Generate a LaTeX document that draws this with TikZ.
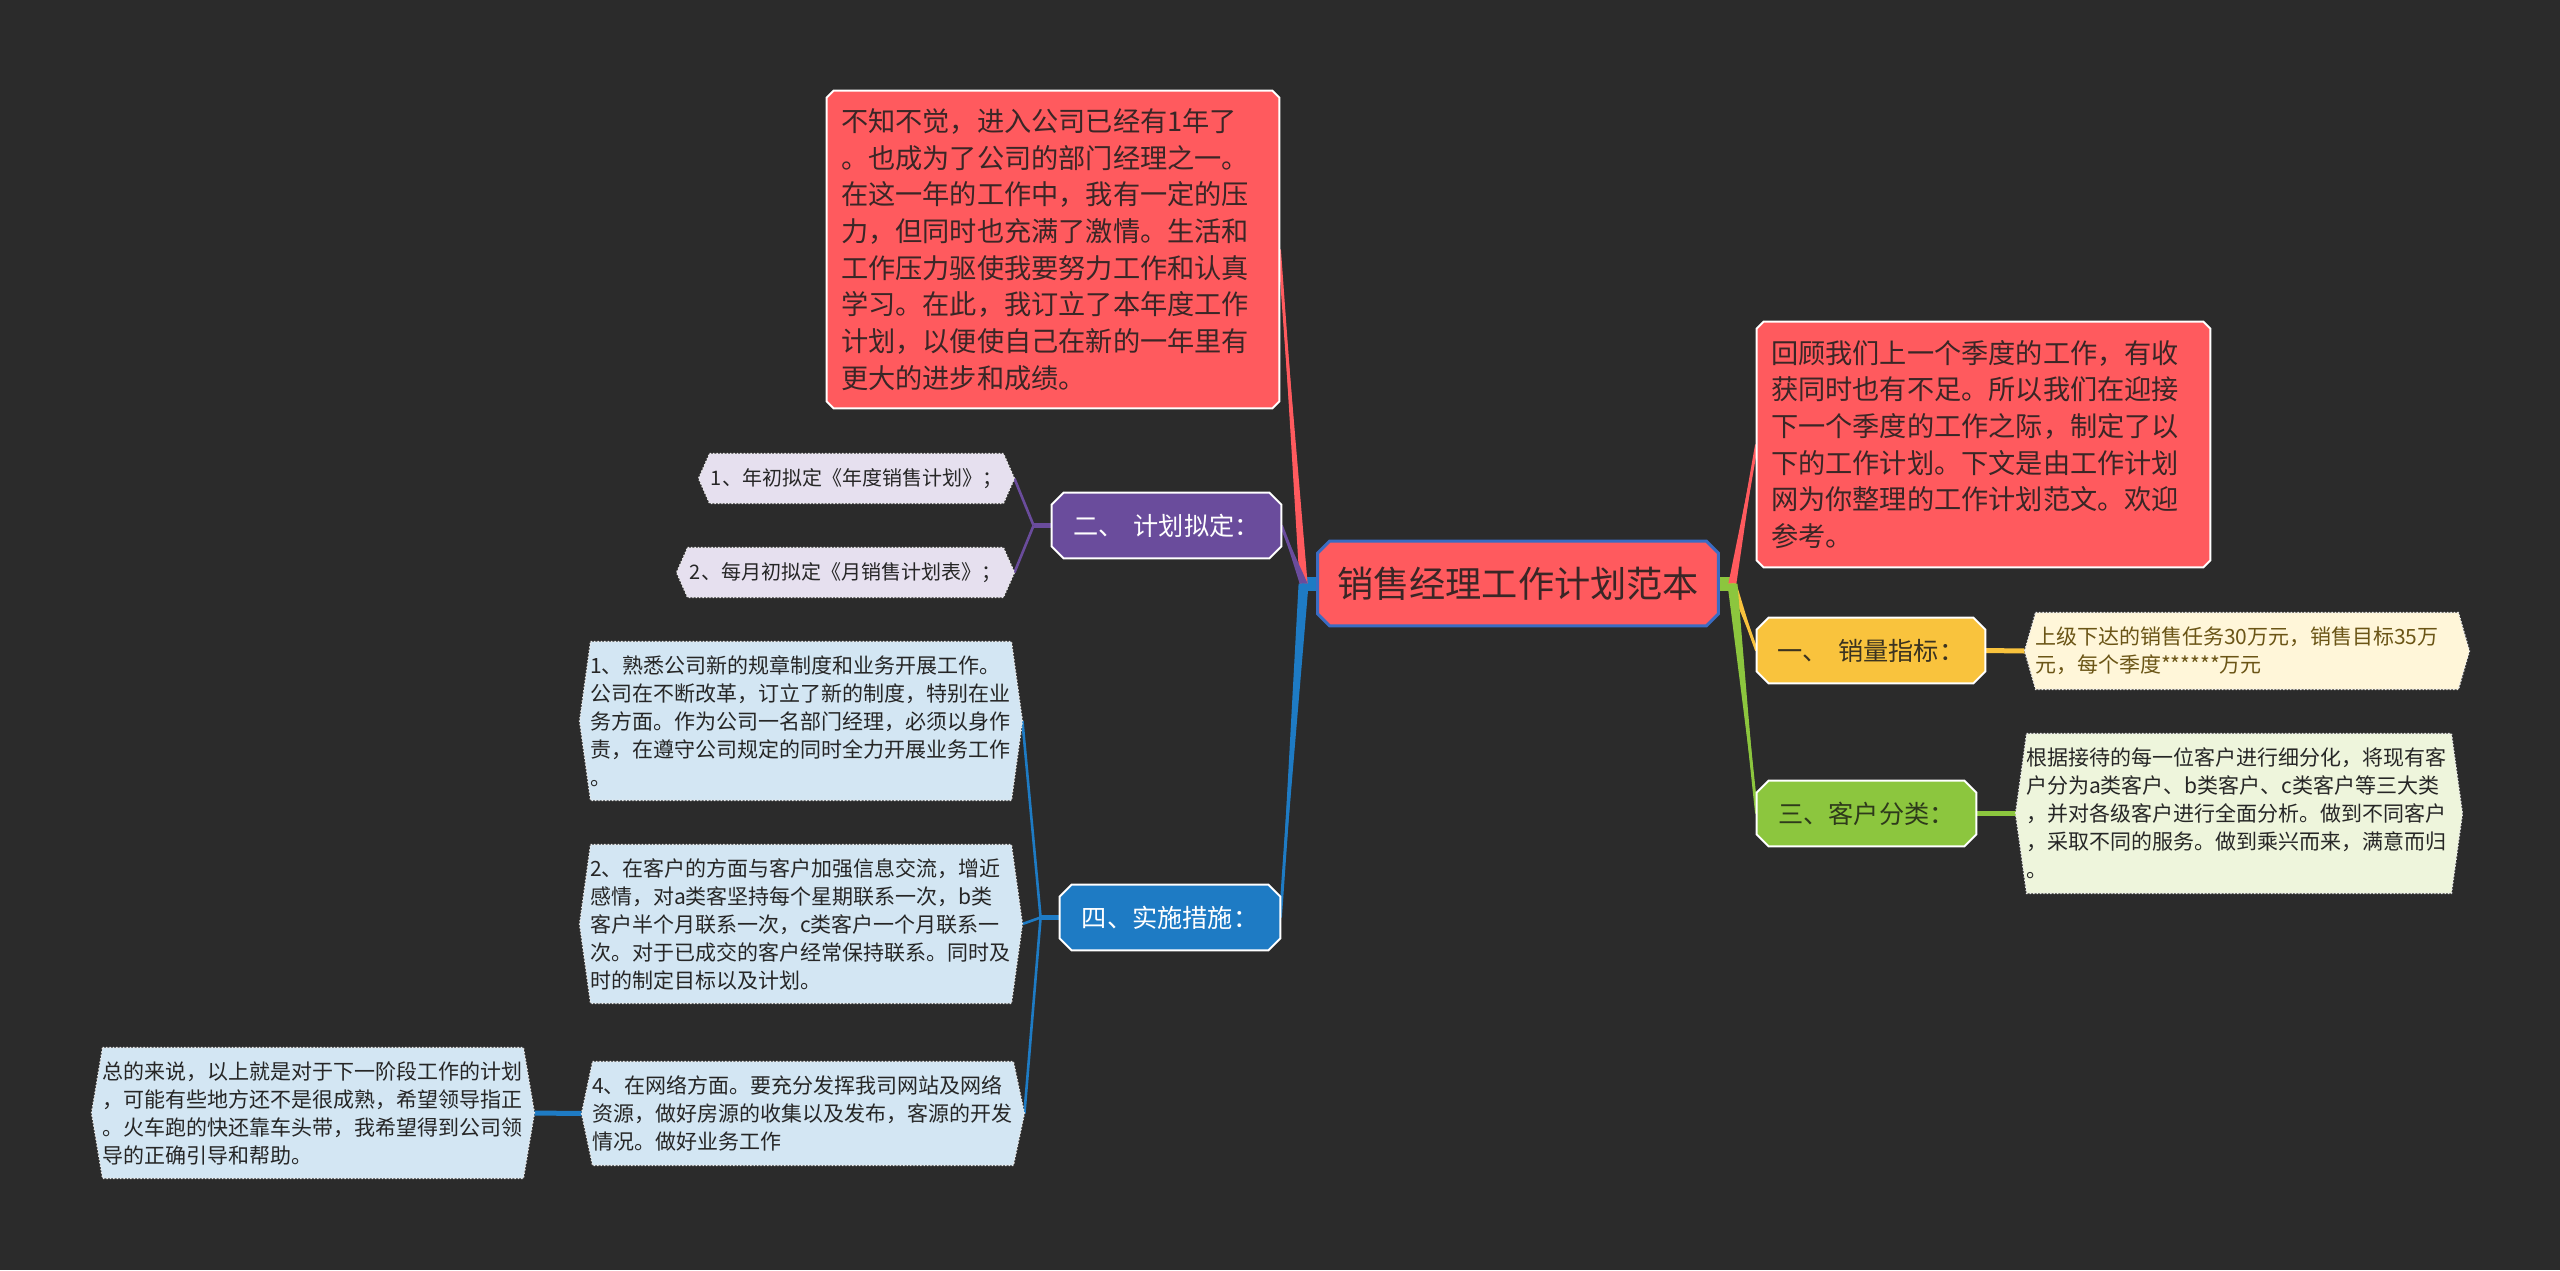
\documentclass[tikz,border=0pt]{standalone}
\usepackage{fontspec}
\setmainfont{Noto Sans CJK SC}
\usetikzlibrary{calc}
\pgfdeclarelayer{bglayer}
\pgfdeclarelayer{lines}
\pgfdeclarelayer{shapes}
\pgfsetlayers{bglayer,lines,shapes,main}
\definecolor{bg}{HTML}{2B2B2B}
\definecolor{redc}{HTML}{FF5A5E}
\definecolor{redtext}{HTML}{3A2626}
\definecolor{purc}{HTML}{6A4C9C}
\definecolor{purleaf}{HTML}{E6E0EF}
\definecolor{bluec}{HTML}{1E7BC4}
\definecolor{blueleaf}{HTML}{D3E6F3}
\definecolor{yelc}{HTML}{F9C33D}
\definecolor{yelleaf}{HTML}{FFF6D9}
\definecolor{grnc}{HTML}{8CC63E}
\definecolor{grnleaf}{HTML}{EEF5DC}
\definecolor{cenborder}{HTML}{3A6CC2}
\definecolor{leaftext}{HTML}{262626}
\definecolor{yeltext}{HTML}{6B5516}
\definecolor{yelnodetext}{HTML}{3B3320}
\definecolor{grnnodetext}{HTML}{2E3A1B}
\definecolor{dotc}{HTML}{E8E8E8}

\newcommand\octshape[3]{\begin{pgfonlayer}{shapes}\path[#3] ($(#1.north west)+(#2,0)$) -- ($(#1.north east)+(-#2,0)$) -- ($(#1.north east)+(0,#2)$) -- ($(#1.south east)+(0,-#2)$) -- ($(#1.south east)+(-#2,0)$) -- ($(#1.south west)+(#2,0)$) -- ($(#1.south west)+(0,-#2)$) -- ($(#1.north west)+(0,#2)$) -- cycle;\end{pgfonlayer}}
\newcommand\hexshape[3]{\begin{pgfonlayer}{shapes}\path[#3] ($(#1.north west)+(#2,0)$) -- ($(#1.north east)+(-#2,0)$) -- (#1.east) -- ($(#1.south east)+(-#2,0)$) -- ($(#1.south west)+(#2,0)$) -- (#1.west) -- cycle;\end{pgfonlayer}}
\newcommand\taper[4]{\begin{pgfonlayer}{lines}\fill[#4] ($(#1)+(-#3,0)$) -- (#2) -- ($(#1)+(#3,0)$) -- cycle;\draw[#4,line width=1.5pt] (#1) -- (#2);\end{pgfonlayer}}

\tikzset{
  box/.style={rectangle, inner sep=0pt, align=center},
  mainnode/.style={box, font=\fontsize{12.6}{16}\selectfont, minimum height=32.5pt},
  redbox/.style={rectangle, inner xsep=7pt, inner ysep=0pt, align=left, text=redtext, font=\fontsize{13.6}{18.35}\selectfont},
  leafbox/.style={rectangle, inner xsep=5pt, inner ysep=0pt, align=left, text=leaftext, font=\fontsize{10.5}{14}\selectfont},
  shortleaf/.style={box, text=leaftext, font=\fontsize{10}{13}\selectfont, minimum height=24.5pt},
  leafdraw/.style={draw=dotc, densely dotted, line width=0.7pt},
  subline/.style={line width=1.3pt},
  stubline/.style={line width=2.5pt}
}

\begin{document}
\begin{tikzpicture}[x=0.5pt,y=-0.5pt]
\begin{pgfonlayer}{bglayer}
\fill[bg] (0,0) rectangle (2560,1270);
\end{pgfonlayer}
\useasboundingbox (0,0) rectangle (2560,1270);

% central topic
\node[box, text=redtext, font=\fontsize{18.1}{22}\selectfont, minimum width=200pt, minimum height=42pt] (central) at (1518,583.5) {销售经理工作计划范本};

% red text boxes
\node[redbox, text width=212pt, minimum height=158.5pt] (topred) at (1053,249.5) {不知不觉，进入公司已经有1年了\\。也成为了公司的部门经理之一。\\在这一年的工作中，我有一定的压\\力，但同时也充满了激情。生活和\\工作压力驱使我要努力工作和认真\\学习。在此，我订立了本年度工作\\计划，以便使自己在新的一年里有\\更大的进步和成绩。};
\node[redbox, text width=212.5pt, minimum height=122.5pt] (rightred) at (1983.5,444.5) {回顾我们上一个季度的工作，有收\\获同时也有不足。所以我们在迎接\\下一个季度的工作之际，制定了以\\下的工作计划。下文是由工作计划\\网为你整理的工作计划范文。欢迎\\参考。};

% main branches
\node[mainnode, text=yelnodetext, minimum width=114pt] (n1) at (1871,650.5) {一、\hspace{0.4em}销量指标：};
\node[mainnode, text=grnnodetext, minimum width=109.5pt] (n3) at (1866.5,813.5) {三、客户分类：};
\node[mainnode, text=white, minimum width=114.5pt] (n2) at (1166.5,525.5) {二、\hspace{0.4em}计划拟定：};
\node[mainnode, text=white, minimum width=110pt] (n4) at (1170,917.5) {四、实施措施：};

% leaves
\node[leafbox, text=yeltext, text width=212pt, minimum height=38pt] (leaf1) at (2247,651) {上级下达的销售任务30万元，销售目标35万\\元，每个季度******万元};
\node[leafbox, text width=213pt, minimum height=79.5pt] (leaf3) at (2239,813.5) {根据接待的每一位客户进行细分化，将现有客\\户分为a类客户、b类客户、c类客户等三大类\\，并对各级客户进行全面分析。做到不同客户\\，采取不同的服务。做到乘兴而来，满意而归\\。};
\node[shortleaf, minimum width=157.5pt] (leaf2a) at (856.5,478.5) {1、年初拟定《年度销售计划》；};
\node[shortleaf, minimum width=168.5pt] (leaf2b) at (845.5,572.5) {2、每月初拟定《月销售计划表》；};
\node[leafbox, text width=211pt, minimum height=79pt] (leaf4a) at (801,721) {1、熟悉公司新的规章制度和业务开展工作。\\公司在不断改革，订立了新的制度，特别在业\\务方面。作为公司一名部门经理，必须以身作\\责，在遵守公司规定的同时全力开展业务工作\\。};
\node[leafbox, text width=211pt, minimum height=79pt] (leaf4b) at (801,924) {2、在客户的方面与客户加强信息交流，增近\\感情，对a类客坚持每个星期联系一次，b类\\客户半个月联系一次，c类客户一个月联系一\\次。对于已成交的客户经常保持联系。同时及\\时的制定目标以及计划。};
\node[leafbox, text width=211pt, minimum height=51.5pt] (leaf4c) at (803,1113.5) {4、在网络方面。要充分发挥我司网站及网络\\资源，做好房源的收集以及发布，客源的开发\\情况。做好业务工作};
\node[leafbox, text width=211pt, minimum height=65pt] (leaf4d) at (313,1113) {总的来说，以上就是对于下一阶段工作的计划\\，可能有些地方还不是很成熟，希望领导指正\\。火车跑的快还靠车头带，我希望得到公司领\\导的正确引导和帮助。};

% shapes
\octshape{central}{12}{fill=redc, draw=cenborder, line width=1.5pt}
\octshape{topred}{7}{fill=redc, draw=white, line width=1pt}
\octshape{rightred}{7}{fill=redc, draw=white, line width=1pt}
\octshape{n1}{12}{fill=yelc, draw=white, line width=1pt}
\octshape{n3}{12}{fill=grnc, draw=white, line width=1pt}
\octshape{n2}{12}{fill=purc, draw=white, line width=1pt}
\octshape{n4}{12}{fill=bluec, draw=white, line width=1pt}
\hexshape{leaf1}{11}{fill=yelleaf, leafdraw}
\hexshape{leaf3}{11}{fill=grnleaf, leafdraw}
\hexshape{leaf2a}{11}{fill=purleaf, leafdraw}
\hexshape{leaf2b}{11}{fill=purleaf, leafdraw}
\hexshape{leaf4a}{11}{fill=blueleaf, leafdraw}
\hexshape{leaf4b}{11}{fill=blueleaf, leafdraw}
\hexshape{leaf4c}{11}{fill=blueleaf, leafdraw}
\hexshape{leaf4d}{11}{fill=blueleaf, leafdraw}

% connectors
\coordinate (JL) at ($(central.west)+(-14,0)$);
\coordinate (JR) at ($(central.east)+(14,0)$);
\coordinate (E2) at ($(n2.west)+(-18,0)$);
\coordinate (E4) at ($(n4.west)+(-19,0)$);
\begin{pgfonlayer}{lines}
\fill[bluec] ($(central.west)+(-18,-7)$) rectangle ($(central.west)+(2,7)$);
\fill[grnc] ($(central.east)+(-2,-7)$) rectangle ($(central.east)+(18,7)$);
\end{pgfonlayer}
\taper{JL}{topred.east}{4}{redc}
\taper{JL}{n2.east}{4}{purc}
\taper{JL}{n4.east}{5}{bluec}
\taper{JR}{rightred.west}{4}{redc}
\taper{JR}{n1.west}{4}{yelc}
\taper{JR}{n3.west}{5}{grnc}
\begin{pgfonlayer}{lines}
\draw[purc, stubline] (n2.west) -- (E2);
\draw[purc, subline] (E2) -- (leaf2a.east);
\draw[purc, subline] (E2) -- (leaf2b.east);
\draw[bluec, stubline] (n4.west) -- (E4);
\draw[bluec, subline] (E4) -- (leaf4a.east);
\draw[bluec, subline] (E4) -- (leaf4b.east);
\draw[bluec, subline] (E4) -- (leaf4c.east);
\draw[yelc, stubline] (n1.east) -- (leaf1.west);
\draw[grnc, stubline] (n3.east) -- (leaf3.west);
\draw[bluec, stubline] (leaf4c.west) -- (leaf4d.east);
\end{pgfonlayer}
\end{tikzpicture}
\end{document}
